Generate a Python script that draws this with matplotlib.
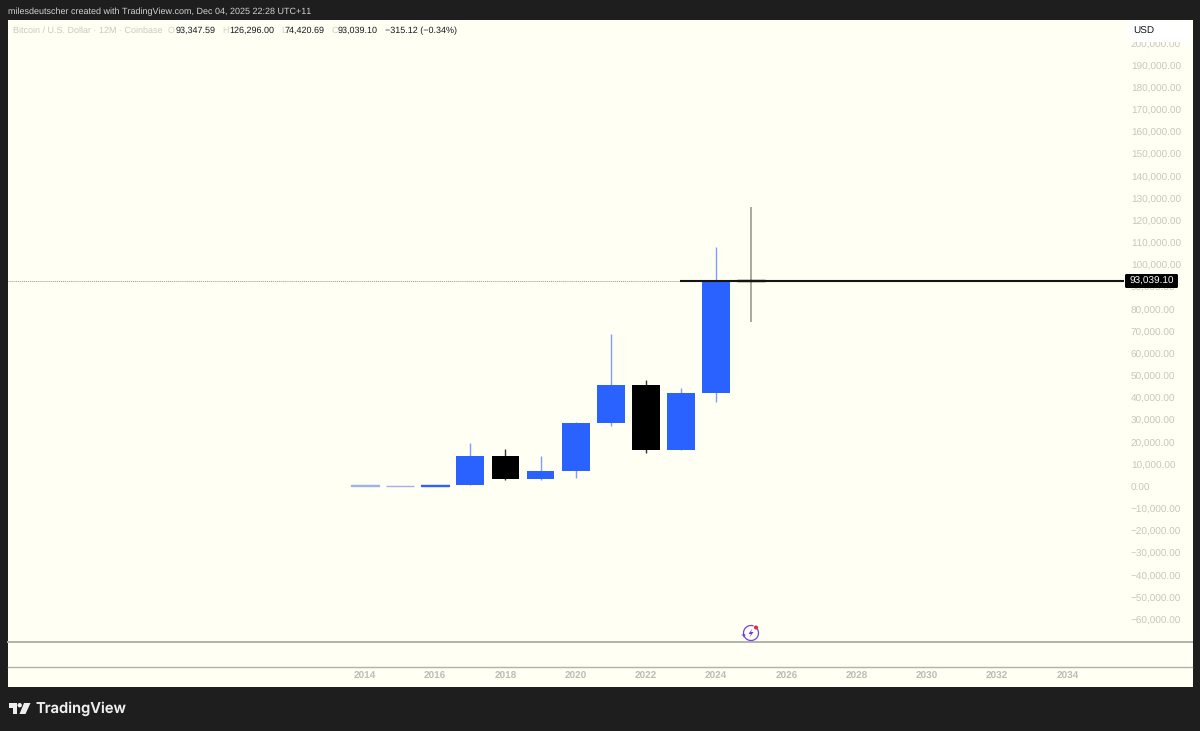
import matplotlib
matplotlib.use("Agg")
import matplotlib.pyplot as plt
from matplotlib.patches import Rectangle, FancyBboxPatch, Polygon, Circle, Arc

plt.rcParams['font.family'] = ['Liberation Sans', 'DejaVu Sans']
plt.rcParams['text.hinting'] = 'no_hinting'
plt.rcParams['text.hinting_factor'] = 1

years = [2014, 2015, 2016, 2017, 2018, 2019, 2020, 2021, 2022, 2023, 2024, 2025]
opens = [750, 310, 430, 960, 13860, 3700, 7170, 29000, 46200, 16500, 42250, 93347.59]
closes = [310, 430, 960, 13860, 3700, 7170, 29000, 46200, 16500, 42250, 93347.59, 93039.10]
highs = [750, 430, 980, 19891, 17000, 13880, 29300, 69000, 48200, 44700, 108300, 126296.00]
lows = [310, 310, 360, 780, 3100, 3350, 3850, 27700, 15500, 16500, 38500, 74420.69]
last_price = 93039.10
price_ticks = list(range(-60000, 200001, 10000))
year_ticks = list(range(2014, 2035, 2))

W, H = 1200, 731
fig = plt.figure(figsize=(W / 100, H / 100), dpi=100, facecolor='#1e1e1e')

bg = fig.add_axes([0, 0, 1, 1], zorder=0)
bg.set_xlim(0, W); bg.set_ylim(H, 0); bg.axis('off')
bg.add_patch(Rectangle((8, 20), 1184.5, 667, fc='#fffff3', ec='none'))
bg.plot([8, 1192], [642, 642], color='#b2b2aa', lw=1.4)
bg.plot([8, 1192], [666.5, 666.5], color='#b2b2aa', lw=1.0)

# main price axes spans pixel x 8..1124, y 20..642
PX_YEAR = 35.12
PX_UNIT = 22.17 / 10000
ax = fig.add_axes([8 / W, 1 - 642 / H, (1124 - 8) / W, (642 - 20) / H], zorder=1)
ax.patch.set_alpha(0)
ax.set_xlim(2014 - (365 - 8) / PX_YEAR, 2014 + (1124 - 365) / PX_YEAR)
ax.set_ylim(-(642 - 487) / PX_UNIT, (487 - 20) / PX_UNIT)
for s in ax.spines.values():
    s.set_visible(False)

UP, DOWN = '#2962ff', '#000000'
for y, o, c, h, l in zip(years, opens, closes, highs, lows):
    col = UP if c >= o else DOWN
    wick = '#7f9ef5' if c >= o else '#333333'
    if y == 2025:
        wick = '#a3a298'
    if y in (2014, 2015):
        col = wick = '#9fb2ea'
    ax.vlines(y, l, h, color=wick, lw=1.3 if y == 2025 else 1.0, zorder=2)
    height = abs(c - o)
    thin = height < 800
    ax.bar(y, height, bottom=min(o, c), width=0.79, color=col,
           edgecolor=col if thin else 'none', lw=1.0 if thin else 0, zorder=3)

ax.hlines(last_price, ax.get_xlim()[0], 2022.96, color='#9a9a90', lw=0.7, ls=(0, (1, 1)), zorder=1)
ax.hlines(last_price, 2022.96, ax.get_xlim()[1], color='#141410', lw=1.5, zorder=4)

ax.yaxis.tick_right()
ax.set_yticks(price_ticks)
ax.set_yticklabels([f"{v:,.2f}".replace('-', '\u2212') for v in price_ticks],
                   color='#c6c6c0', fontsize=7.1)
ax.set_xticks(year_ticks)
ax.set_xticklabels([str(v) for v in year_ticks], color='#bdbdb8', fontsize=7.2,
                    fontweight='bold')
ax.tick_params(axis='y', length=0, pad=5)
ax.tick_params(axis='x', length=0, pad=21)

top = fig.add_axes([0, 0, 1, 1], zorder=2)
top.set_xlim(0, W); top.set_ylim(H, 0); top.axis('off'); top.patch.set_alpha(0)

def t(x, y, s, color, size=7.1, **kw):
    top.text(x, y, s, color=color, fontsize=size, va='center', ha=kw.pop('ha', 'left'), **kw)

t(8, 11.5, 'milesdeutscher created with TradingView.com, Dec 04, 2025 22:28 UTC+11', '#d2d2d2', 6.8)
t(13, 31, 'Bitcoin / U.S. Dollar \u00b7 12M \u00b7 Coinbase', '#c9c9c3', 6.6)
for x, lab, lx, val in [(168, 'O', 176, '93,347.59'), (222, 'H', 229, '126,296.00'),
                        (281, 'L', 285, '74,420.69'), (332, 'C', 338, '93,039.10')]:
    t(x, 31, lab, '#d0d0ca', 6.6)
    t(lx, 31, val, '#131722', 6.6)
t(385, 31, '\u2212315.12 (\u22120.34%)', '#131722', 6.6)

# currency box
top.add_patch(FancyBboxPatch((1127, 21), 64, 21, boxstyle='round,pad=0,rounding_size=2', fc='white', ec='none'))
t(1133, 31.5, 'USD', '#131722', 7.1)

# last price label
top.add_patch(FancyBboxPatch((1125, 274), 53, 14, boxstyle='round,pad=0,rounding_size=1.5', fc='black', ec='none'))
t(1130, 281, '93,039.10', 'white', 7.1)

# lightning icon
top.add_patch(Arc((751, 633), 15, 15, theta1=-60, theta2=290, color='#7b3fe4', lw=0.9))
top.add_patch(Polygon([(752.5, 628.5), (748.5, 634), (751, 634), (749.5, 637.5),
                       (753.5, 632), (751, 632)], fc='#6d3be0', ec='none'))
top.add_patch(Polygon([(741, 635), (743, 634.4), (743.7, 632.5), (744.4, 634.4), (746.3, 635),
                       (744.4, 635.6), (743.7, 637.5), (743, 635.6)], fc='#5a3fe0', ec='none'))
top.add_patch(Circle((756, 627.5), 2, fc='#e5283c', ec='none'))

# TradingView logo
logo = '#eeeeee'
top.add_patch(Polygon([(9, 703), (17, 703), (17, 714), (13, 714), (13, 707.5), (9, 707.5)], fc=logo, ec='none'))
top.add_patch(Circle((19.7, 705.2), 2.2, fc=logo, ec='none'))
top.add_patch(Polygon([(24, 703), (30.5, 703), (25.5, 714), (19.5, 714)], fc=logo, ec='none'))
t(35.5, 708.5, 'TradingView', logo, 10.6, fontfamily=['Inter', 'DejaVu Sans'], fontweight='semibold')

fig.savefig('out.png', dpi=100, facecolor=fig.get_facecolor())
